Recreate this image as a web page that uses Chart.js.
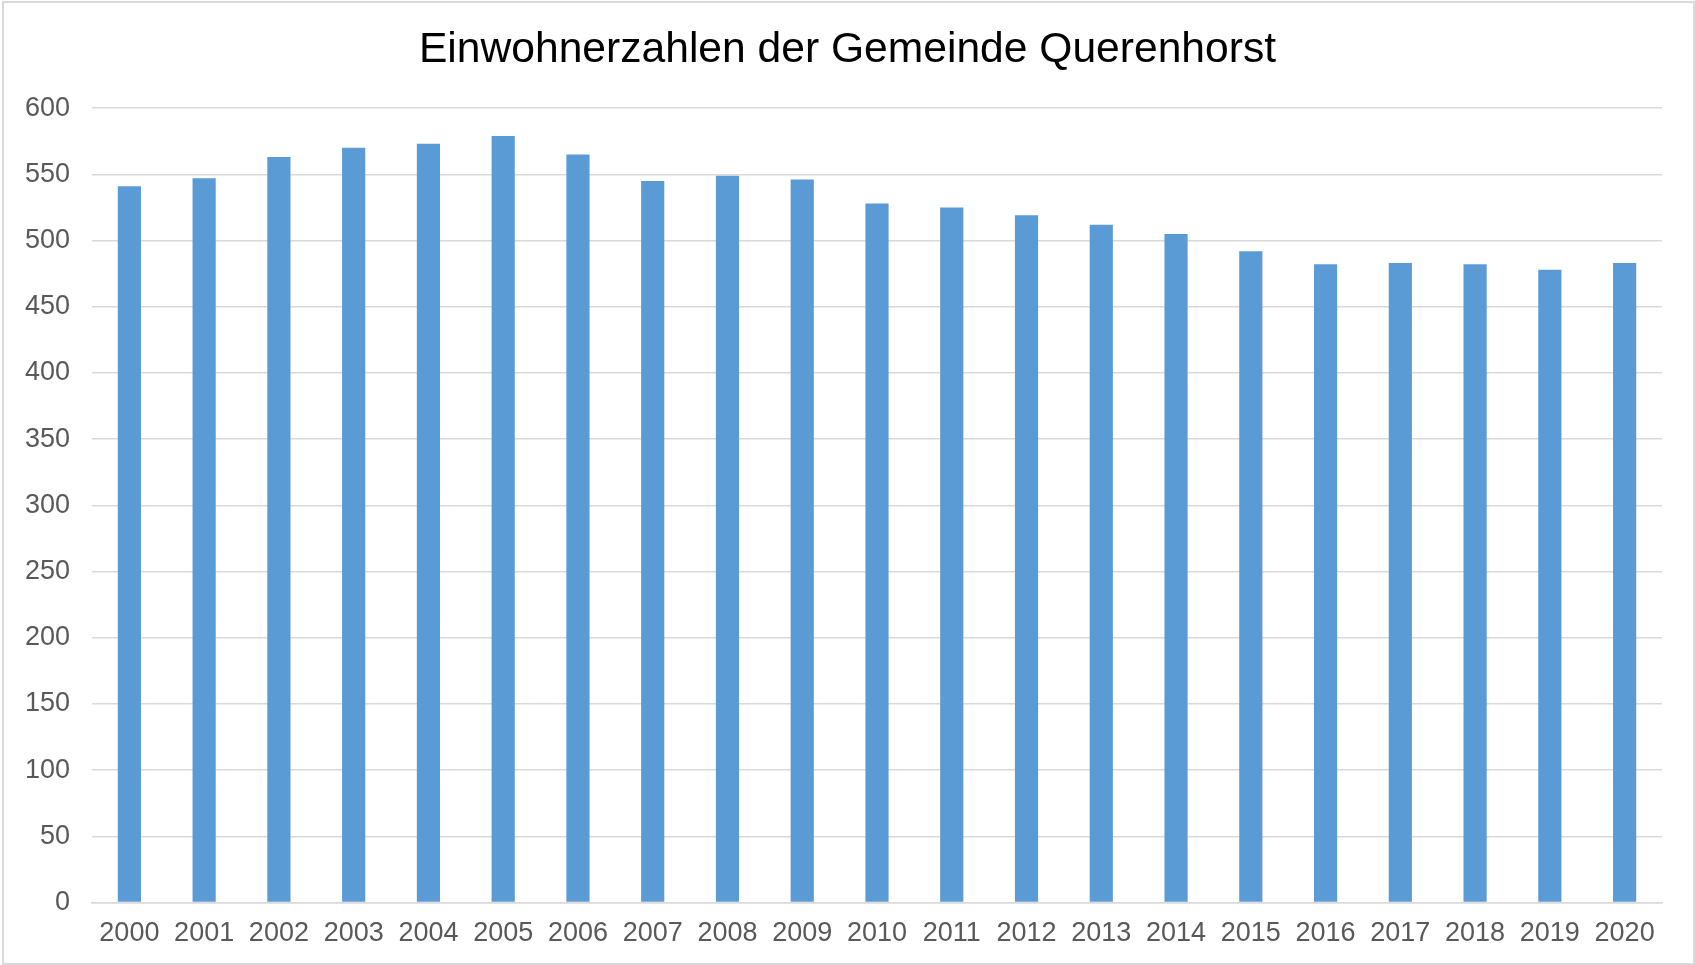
<!DOCTYPE html>
<html>
<head>
<meta charset="utf-8">
<script src="https://cdn.jsdelivr.net/npm/chart.js@4"></script>
<style>
  html, body { margin: 0; padding: 0; background: #fff; }
  #wrap { position: relative; width: 1695px; height: 965px; }
  #frame { position: absolute; left: 2px; top: 1px; width: 1689px; height: 960px;
           border: 2px solid #d9d9d9; pointer-events: none; }
</style>
</head>
<body>
<div id="wrap">
  <canvas id="myChart" width="1695" height="965"></canvas>
  <div id="frame"></div>
</div>
<script>
const ctx = document.getElementById('myChart');

// Einwohner je Jahr
const years = ['2000', '2001', '2002', '2003', '2004', '2005', '2006', '2007', '2008', '2009',
               '2010', '2011', '2012', '2013', '2014', '2015', '2016', '2017', '2018', '2019', '2020'];
const einwohner = [541, 547, 563, 570, 573, 579, 565, 545, 549, 546,
                   528, 525, 519, 512, 505, 492, 482, 483, 482, 478, 483];
const yMin = 0;
const yMax = 600;
const yStep = 50;

const FONT = "'Liberation Sans', Arial, sans-serif";

new Chart(ctx, {
  type: 'bar',
  data: {
    labels: years,
    datasets: [{
      label: 'Einwohner',
      data: einwohner,
      backgroundColor: '#5b9bd5',
      borderWidth: 0,
      categoryPercentage: 1,
      barPercentage: 0.31
    }]
  },
  options: {
    responsive: false,
    animation: false,
    layout: { padding: { left: 0, right: 0, top: 0, bottom: 0 } },
    plugins: {
      legend: { display: false },
      tooltip: { enabled: false },
      title: {
        display: true,
        text: 'Einwohnerzahlen der Gemeinde Querenhorst',
        color: '#000',
        font: { family: FONT, size: 42.6, weight: 'normal', lineHeight: 1.2 },
        padding: { top: 25, bottom: 32 }
      }
    },
    scales: {
      x: {
        grid: { display: false, drawTicks: false },
        border: { display: true, color: '#d9d9d9', width: 1.5 },
        ticks: {
          color: '#595959',
          padding: 15,
          maxRotation: 0,
          font: { family: FONT, size: 27 }
        }
      },
      y: {
        min: yMin,
        max: yMax,
        afterFit: (scale) => { scale.width = 92; },
        grid: { color: '#d9d9d9', lineWidth: 1.5, drawTicks: false },
        border: { display: false },
        ticks: {
          stepSize: yStep,
          color: '#595959',
          padding: 22,
          font: { family: FONT, size: 27 }
        }
      },
      // leerer Rand rechts, damit der Titel über dem ganzen Bild zentriert bleibt
      rand: {
        position: 'right',
        min: yMin,
        max: yMax,
        afterFit: (scale) => { scale.width = 33; },
        grid: { display: false, drawTicks: false },
        border: { display: false },
        ticks: { display: false }
      }
    }
  }
});
</script>
</body>
</html>
